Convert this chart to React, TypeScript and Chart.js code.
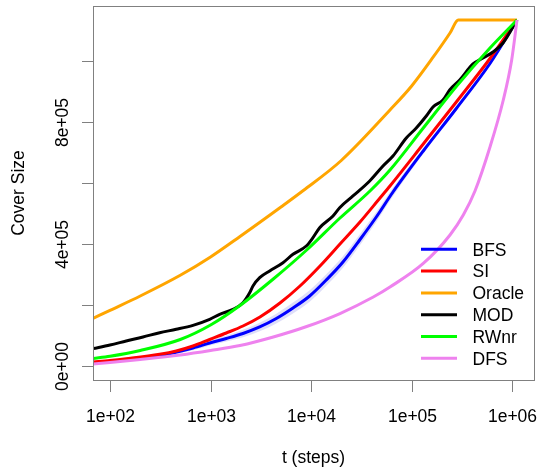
import React, { useEffect, useRef } from "react";
import { Chart, registerables } from "chart.js";

Chart.register(...registerables);

// Axis ranges (log x, linear y)
const X_MIN = 67.8;
const X_MAX = 1.644e6;
const Y_MIN = -45900;
const Y_MAX = 1180300;

const xTicks = [1e2, 1e3, 1e4, 1e5, 1e6];
const xTickLabels = ["1e+02", "1e+03", "1e+04", "1e+05", "1e+06"];
const yTicks = [0, 2e5, 4e5, 6e5, 8e5, 1e6];
const yTickLabels = ["0e+00", "", "4e+05", "", "8e+05", ""];

const xTitle = "t (steps)";
const yTitle = "Cover Size";

const seriesNames = ["BFS", "SI", "Oracle", "MOD", "RWnr", "DFS"];
const seriesColors = ["#0000FF", "#FF0000", "#FFA500", "#000000", "#00FF00", "#EE82EE"];
const bandColor = "rgba(200, 200, 245, 0.6)";

// BFS
const bfsT = [67.8, 100, 145, 312, 669, 980, 1434, 2101, 3080, 4504, 6600, 9674, 14150, 20740, 30390, 44450, 65140, 130300, 280100, 600200, 1114000];
const bfsV = [11500, 14800, 21300, 34400, 59000, 75400, 90200, 106600, 127900, 155700, 190200, 229500, 282000, 341000, 413100, 488500, 570500, 705000, 845900, 991800, 1134400];
const bfsBand = [1500, 2000, 3000, 5000, 7000, 8000, 10000, 12000, 14000, 16000, 18000, 19000, 19000, 19000, 18000, 16000, 14000, 9000, 5000, 2500, 500];

// SI
const siT = [67.8, 100, 145, 312, 456, 669, 980, 1434, 2101, 3100, 4900, 7748, 12250, 19360, 30600, 48370, 60800, 130300, 280100, 600200, 1114000];
const siV = [13100, 18000, 23900, 38400, 49200, 65600, 86900, 108200, 131100, 160700, 206600, 262300, 327900, 400000, 472100, 550800, 590200, 727900, 867200, 1008200, 1134400];

// Oracle
const oracleT = [67.8, 100, 200, 500, 1000, 1962, 5013, 8356, 19940, 60800, 99900, 163900, 240300, 290500, 1114000];
const oracleV = [156400, 182600, 229500, 297400, 357400, 424600, 521300, 575400, 673800, 839300, 918000, 1013100, 1091800, 1134400, 1134400];

// MOD
const modT = [67.8, 100, 145, 213, 312, 456, 669, 980, 1232, 1671, 2101, 2449, 2641, 3080, 3872, 5250, 6600, 8950, 10430, 12160, 16500, 19220, 26070, 38210, 51820, 65140, 88340, 111000, 139600, 162700, 204600, 238500, 300000, 406800, 511400, 642800, 808300, 1114000];
const modV = [57000, 68900, 82000, 95100, 109200, 120300, 133400, 153100, 169500, 185900, 207500, 240300, 262300, 289500, 311500, 338700, 366200, 393400, 420700, 453400, 491800, 519000, 557400, 606600, 655700, 688500, 747500, 780300, 819700, 849200, 872100, 904900, 937700, 990200, 1009800, 1029500, 1059000, 1134400];

// RWnr
const rwT = [67.8, 100, 200, 500, 1000, 1962, 4205, 9034, 19360, 38470, 60800, 130300, 280100, 600200, 1114000];
const rwV = [24600, 31800, 50800, 86900, 134400, 198400, 285200, 380300, 485200, 573800, 642600, 780300, 918000, 1042600, 1134400];

// DFS
const dfsT = [67.8, 100, 200, 500, 1000, 1962, 4205, 9034, 19360, 41500, 60800, 130300, 240300, 325600, 425700, 600200, 813900, 986300, 1114000];
const dfsV = [6600, 11500, 21300, 36100, 50800, 67200, 95100, 129500, 172100, 226200, 259000, 336100, 429500, 495100, 573800, 718000, 872100, 1003300, 1134400];

const seriesT = [bfsT, siT, oracleT, modT, rwT, dfsT];
const seriesV = [bfsV, siV, oracleV, modV, rwV, dfsV];

const FONT = "17.5px 'Liberation Sans', Arial, Helvetica, sans-serif";
const BOX_COLOR = "#808080";

const toPoints = (t: number[], v: number[]) => t.map((x, i) => ({ x, y: v[i] }));

const decorPlugin = {
  id: "rdecor",
  afterDraw(chart: any) {
    const { ctx, chartArea } = chart;
    const xs = chart.scales.x;
    const ys = chart.scales.y;
    const L = Math.round(chartArea.left);
    const R = Math.round(chartArea.right);
    const T = Math.round(chartArea.top);
    const B = Math.round(chartArea.bottom);
    ctx.save();
    // box
    ctx.strokeStyle = BOX_COLOR;
    ctx.lineWidth = 1;
    ctx.strokeRect(L + 0.5, T + 0.5, R - L, B - T);
    // x ticks
    ctx.fillStyle = "#000";
    ctx.font = FONT;
    ctx.textAlign = "center";
    ctx.textBaseline = "alphabetic";
    xTicks.forEach((v, i) => {
      const px = Math.round(xs.getPixelForValue(v)) + 0.5;
      ctx.beginPath();
      ctx.moveTo(px, B + 0.5);
      ctx.lineTo(px, B + 12);
      ctx.stroke();
      ctx.fillText(xTickLabels[i], px, B + 41.5);
    });
    // y ticks
    yTicks.forEach((v, i) => {
      const py = Math.round(ys.getPixelForValue(v)) + 0.5;
      ctx.beginPath();
      ctx.moveTo(L + 0.5, py);
      ctx.lineTo(L - 11, py);
      ctx.stroke();
      if (yTickLabels[i]) {
        ctx.save();
        ctx.translate(L - 25.5, py);
        ctx.rotate(-Math.PI / 2);
        ctx.fillText(yTickLabels[i], 0, 0);
        ctx.restore();
      }
    });
    // titles
    ctx.fillText(xTitle, (L + R) / 2, 463);
    ctx.save();
    ctx.translate(23.5, (T + B) / 2);
    ctx.rotate(-Math.PI / 2);
    ctx.fillText(yTitle, 0, 0);
    ctx.restore();
    // legend
    const legX0 = 421;
    const legX1 = 457;
    const legTextX = 472.5;
    const legY0 = 249.3;
    const legStep = 21.8;
    ctx.textAlign = "left";
    seriesNames.forEach((name, i) => {
      const y = legY0 + i * legStep;
      ctx.strokeStyle = seriesColors[i];
      ctx.lineWidth = 3;
      ctx.beginPath();
      ctx.moveTo(legX0, y);
      ctx.lineTo(legX1, y);
      ctx.stroke();
      ctx.fillStyle = "#000";
      ctx.fillText(name, legTextX, y + 6.3);
    });
    ctx.restore();
  },
};

export default function App() {
  const ref = useRef<HTMLCanvasElement | null>(null);
  useEffect(() => {
    if (!ref.current) return;
    const lineSets = seriesNames.map((name, i) => ({
      label: name,
      data: toPoints(seriesT[i], seriesV[i]),
      borderColor: seriesColors[i],
      backgroundColor: seriesColors[i],
      borderWidth: 3,
      pointRadius: 0,
      cubicInterpolationMode: "monotone",
      borderJoinStyle: "round",
      fill: false,
      order: 6 - i,
    }));
    const bandSets = [
      {
        label: "bandUpper",
        data: toPoints(bfsT, bfsV.map((v, i) => v + bfsBand[i])),
        borderWidth: 0,
        borderColor: "rgba(0,0,0,0)",
        backgroundColor: bandColor,
        pointRadius: 0,
        cubicInterpolationMode: "monotone",
        fill: "+1",
        order: 20,
      },
      {
        label: "bandLower",
        data: toPoints(bfsT, bfsV.map((v, i) => v - bfsBand[i])),
        borderWidth: 0,
        borderColor: "rgba(0,0,0,0)",
        backgroundColor: bandColor,
        pointRadius: 0,
        cubicInterpolationMode: "monotone",
        fill: false,
        order: 21,
      },
    ];
    const chart = new Chart(ref.current, {
      type: "line",
      data: { datasets: [...lineSets, ...bandSets] as any },
      options: {
        animation: false,
        responsive: false,
        devicePixelRatio: 1,
        layout: { padding: { left: 93, right: 5, top: 6, bottom: 96 } },
        plugins: { legend: { display: false }, tooltip: { enabled: false } },
        scales: {
          x: { type: "logarithmic", min: X_MIN, max: X_MAX, display: false },
          y: { type: "linear", min: Y_MIN, max: Y_MAX, display: false },
        },
      } as any,
      plugins: [decorPlugin],
    });
    return () => chart.destroy();
  }, []);
  return (
    <div style={{ position: "fixed", left: 0, top: 0, width: 539, height: 476, background: "#fff" }}>
      <canvas ref={ref} width={539} height={476} style={{ display: "block" }} />
    </div>
  );
}
